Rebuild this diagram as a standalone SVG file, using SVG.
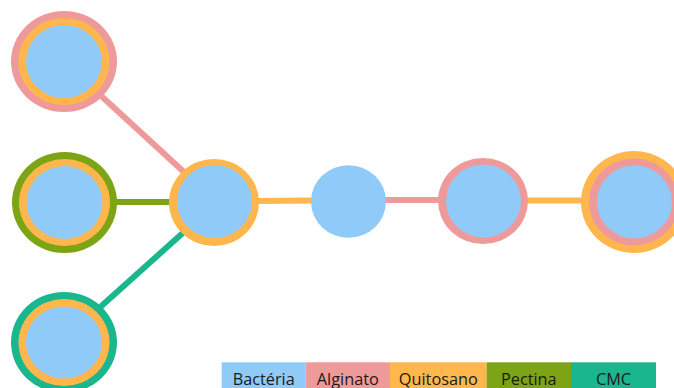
<svg xmlns="http://www.w3.org/2000/svg" width="674" height="388" viewBox="0 0 674 388">
<style>
.bac{fill:#90CAF9}.alg{fill:#EF9A9A}.qui{fill:#FFB74D}.pec{fill:#7CA414}.cmc{fill:#1AB68D}
.ln{stroke-width:6;fill:none}
.lg{font-family:"Open Sans","Noto Sans",sans-serif;font-size:16.3px;fill:#1a1a1a;text-anchor:middle}
</style>
<rect width="674" height="388" fill="#ffffff"/>
<g id="connectors">
<line class="ln" x1="98" y1="93" x2="185" y2="173" stroke="#EF9A9A"/>
<line class="ln" x1="110" y1="202" x2="175" y2="202" stroke="#7CA414"/>
<line class="ln" x1="97" y1="310" x2="185" y2="231" stroke="#1AB68D"/>
<line class="ln" x1="255" y1="201" x2="315" y2="200.5" stroke="#FFB74D"/>
<line class="ln" x1="380" y1="200" x2="445" y2="200" stroke="#EF9A9A"/>
<line class="ln" x1="525" y1="200.5" x2="590" y2="200.5" stroke="#FFB74D"/>
</g>
<g id="node-alginato-quitosano">
<ellipse class="alg" cx="64" cy="61.5" rx="53" ry="50.5"/>
<ellipse class="qui" cx="64" cy="61.5" rx="45.5" ry="43.5"/>
<ellipse class="bac" cx="64" cy="61.5" rx="38" ry="36.5"/>
</g>
<g id="node-pectina-quitosano">
<ellipse class="pec" cx="64.5" cy="202.5" rx="52.5" ry="50.5"/>
<ellipse class="qui" cx="64.5" cy="202.5" rx="45.5" ry="43.5"/>
<ellipse class="bac" cx="64.5" cy="202.5" rx="38" ry="36.5"/>
</g>
<g id="node-cmc-quitosano">
<ellipse class="cmc" cx="64" cy="342.5" rx="53" ry="50.5"/>
<ellipse class="qui" cx="64" cy="342.5" rx="45.5" ry="43.5"/>
<ellipse class="bac" cx="64" cy="342.5" rx="38" ry="36"/>
</g>
<g id="node-quitosano">
<ellipse class="qui" cx="214" cy="202.5" rx="45" ry="43.5"/>
<ellipse class="bac" cx="214.5" cy="201.5" rx="37.5" ry="36.5"/>
</g>
<g id="node-bacteria">
<ellipse class="bac" cx="348.5" cy="201.5" rx="37.5" ry="36.3"/>
</g>
<g id="node-alginato">
<ellipse class="alg" cx="483" cy="201" rx="45" ry="43"/>
<ellipse class="bac" cx="483.5" cy="201" rx="37.5" ry="36.5"/>
</g>
<g id="node-quitosano-alginato">
<ellipse class="qui" cx="634" cy="202" rx="53" ry="51"/>
<ellipse class="alg" cx="634" cy="202" rx="45" ry="43.5"/>
<ellipse class="bac" cx="634.5" cy="202" rx="37.5" ry="36.5"/>
</g>
<g id="legend">
<rect class="bac" x="221.7" y="362.3" width="84" height="25.7"/>
<rect class="alg" x="305.7" y="362.3" width="84.3" height="25.7"/>
<rect class="qui" x="390" y="362.3" width="96.7" height="25.7"/>
<rect class="pec" x="486.7" y="362.3" width="84.3" height="25.7"/>
<rect class="cmc" x="571" y="362.3" width="85" height="25.7"/>
<text class="lg" x="263.7" y="384.5">Bactéria</text>
<text class="lg" x="347.8" y="384.5">Alginato</text>
<text class="lg" x="438.3" y="384.5">Quitosano</text>
<text class="lg" x="528.8" y="384.5">Pectina</text>
<text class="lg" x="613.5" y="384.5">CMC</text>
</g>
</svg>
